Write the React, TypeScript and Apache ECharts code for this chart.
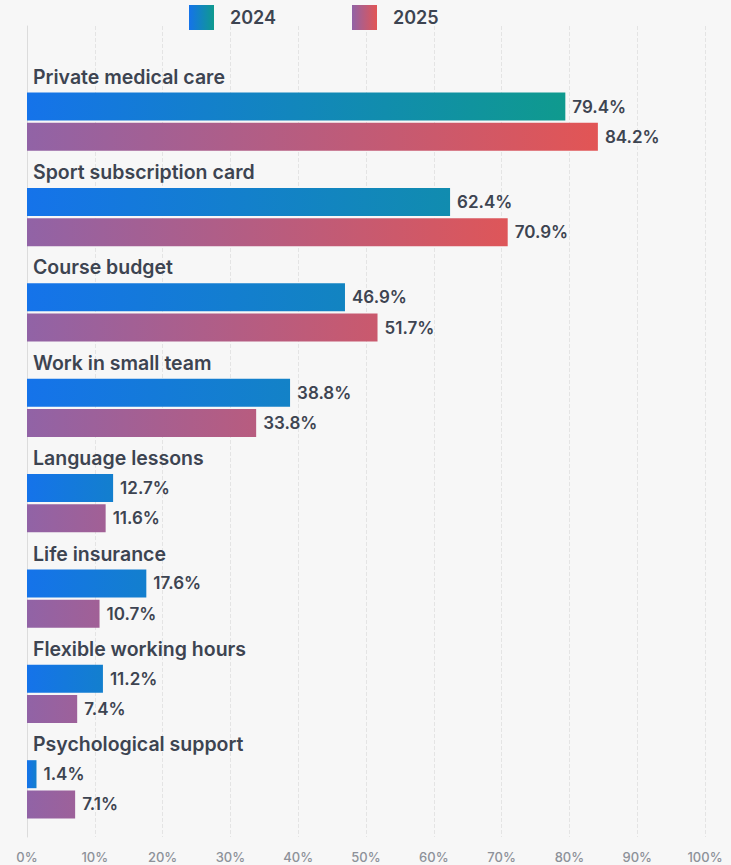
import React, { useEffect, useRef } from "react";
import * as echarts from "echarts";

const categories = [
  "Private medical care",
  "Sport subscription card",
  "Course budget",
  "Work in small team",
  "Language lessons",
  "Life insurance",
  "Flexible working hours",
  "Psychological support",
];
const values2024 = [79.4, 62.4, 46.9, 38.8, 12.7, 17.6, 11.2, 1.4];
const values2025 = [84.2, 70.9, 51.7, 33.8, 11.6, 10.7, 7.4, 7.1];
const seriesNames = ["2024", "2025"];
const xTicks = { min: 0, max: 100, interval: 10 };

const FONT = "Inter, 'Noto Sans', sans-serif";
const TEXT = "#3d4451";

function hex(c: string) {
  return [1, 3, 5].map((i) => parseInt(c.slice(i, i + 2), 16));
}
function mix(a: string, b: string, t: number) {
  const A = hex(a), B = hex(b);
  const r = A.map((v, i) => Math.round(v + (B[i] - v) * t));
  return "#" + r.map((v) => v.toString(16).padStart(2, "0")).join("");
}
function grad(a: string, b: string) {
  return new echarts.graphic.LinearGradient(0, 0, 1, 0, [
    { offset: 0, color: a },
    { offset: 1, color: b },
  ]);
}

const BLUE = "#1573ea", TEAL = "#0f9a8e";
const PURPLE = "#9163a6", RED = "#e25555";

export default function App() {
  const ref = useRef<HTMLDivElement>(null);
  useEffect(() => {
    const chart = echarts.init(ref.current!, null, { renderer: "svg" });
    const t24 = (v: number) => Math.min(1, 0.3 + 0.7 * Math.pow(v / 79.4, 3));
    const t25 = (v: number) => Math.min(1, 0.06 + v / 80);
    const label = {
      show: true,
      position: "right",
      distance: 7,
      formatter: "{c}%",
      color: TEXT,
      fontSize: 17,
      fontWeight: 600,
      fontFamily: FONT,
    };
    const gridPos = { left: 27, right: 26, bottom: 28 };
    chart.setOption({
      animation: false,
      backgroundColor: "#f7f7f7",
      textStyle: { fontFamily: FONT },
      legend: {
        top: 0,
        left: 184,
        itemWidth: 25,
        itemHeight: 25,
        itemGap: 76,
        icon: "rect",
        textStyle: {
          color: TEXT,
          fontSize: 18,
          fontWeight: 600,
          fontFamily: FONT,
          padding: [0, 0, 0, 11],
        },
        data: seriesNames,
      },
      grid: [
        { ...gridPos, top: 74, containLabel: false },
        { ...gridPos, top: 26, containLabel: false },
      ],
      xAxis: [
        {
          type: "value",
          gridIndex: 0,
          min: xTicks.min,
          max: xTicks.max,
          interval: xTicks.interval,
          axisLine: { show: false },
          axisTick: { show: false },
          axisLabel: {
            formatter: "{value}%",
            color: "#8d9199",
            fontSize: 13,
            fontWeight: 500,
            margin: 13,
            fontFamily: FONT,
          },
          splitLine: { show: false },
        },
        {
          type: "value",
          gridIndex: 1,
          min: xTicks.min,
          max: xTicks.max,
          interval: xTicks.interval,
          axisLine: { show: false },
          axisTick: { show: false },
          axisLabel: { show: false },
          splitLine: { show: true, lineStyle: { color: "#e4e4e4", type: "dashed" } },
        },
      ],
      yAxis: [
        {
          type: "category",
          gridIndex: 0,
          inverse: true,
          data: categories,
          axisLine: { show: false },
          axisTick: { show: false },
          axisLabel: {
            inside: true,
            margin: 6,
            color: TEXT,
            fontSize: 19.5,
            fontWeight: 600,
            fontFamily: FONT,
            lineHeight: 24,
            verticalAlign: "bottom",
            padding: [0, 0, 33, 0],
          },
          z: 5,
        },
        {
          type: "value",
          gridIndex: 1,
          min: 0,
          max: 1,
          axisLine: { show: true, onZero: false, lineStyle: { color: "#dcdcdc", width: 1 } },
          axisTick: { show: false },
          axisLabel: { show: false },
          splitLine: { show: false },
        },
      ],
      series: [
        {
          name: seriesNames[0],
          type: "bar",
          xAxisIndex: 0,
          yAxisIndex: 0,
          barWidth: 28,
          barGap: "8%",
          itemStyle: { color: grad(BLUE, TEAL) },
          label,
          z: 3,
          data: values2024.map((v) => ({
            value: v,
            itemStyle: { color: grad(BLUE, mix(BLUE, TEAL, t24(v))) },
          })),
        },
        {
          name: seriesNames[1],
          type: "bar",
          xAxisIndex: 0,
          yAxisIndex: 0,
          barWidth: 28,
          barGap: "8%",
          itemStyle: { color: grad(PURPLE, RED) },
          label,
          z: 3,
          data: values2025.map((v) => ({
            value: v,
            itemStyle: { color: grad(PURPLE, mix(PURPLE, RED, t25(v))) },
          })),
        },
      ],
    });
    return () => chart.dispose();
  }, []);
  return (
    <div
      ref={ref}
      style={{ position: "fixed", left: 0, top: 0, width: 731, height: 865 }}
    />
  );
}
